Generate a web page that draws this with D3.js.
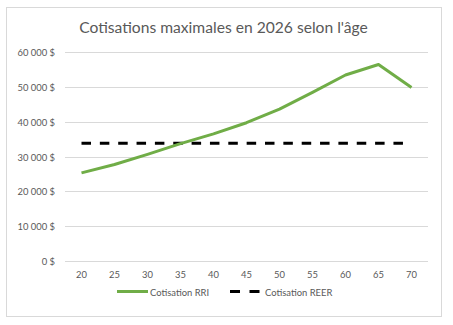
<!DOCTYPE html>
<html><head><meta charset="utf-8">
<script src="https://cdn.jsdelivr.net/npm/d3@7"></script>
<style>body{margin:0;background:#fff}svg{display:block}</style>
</head><body>
<script>
const ages = ["20","25","30","35","40","45","50","55","60","65","70"];
const rri = [25300,27700,30600,33700,36500,39700,43600,48400,53400,56400,49800];
const reer = [33810,33810,33810,33810,33810,33810,33810,33810,33810,33810,33810];
const yTicks = [0,10000,20000,30000,40000,50000,60000];
const title = "Cotisations maximales en 2026 selon l'âge";
const seriesNames = ["Cotisation RRI","Cotisation REER"];

const W=453,H=325;
const svg=d3.select("body").append("svg").attr("width",W).attr("height",H);
const font="Lato, 'Open Sans', sans-serif";
svg.append("rect").attr("x",6.5).attr("y",7.5).attr("width",435).attr("height",309)
  .attr("fill","#fff").attr("stroke","#d9d9d9");

function fit(sel,target){
  const w=sel.node().getComputedTextLength();
  const fs=parseFloat(sel.attr("font-size"));
  sel.attr("font-size",(fs*target/w).toFixed(2));
}

const x=d3.scaleBand().domain(ages).range([65,428]);
const y=d3.scaleLinear().domain([0,60000]).range([261,52]);
const fmt=v=>d3.format(",")(v).replace(/,/g,"\u00a0")+"\u00a0$";

const g=svg.append("g");
g.selectAll("line.grid").data(yTicks).join("line").attr("class","grid")
  .attr("x1",65).attr("x2",428).attr("y1",d=>Math.round(y(d))+0.5).attr("y2",d=>Math.round(y(d))+0.5)
  .attr("stroke","#d9d9d9").attr("stroke-width",1);

const probe=svg.append("text").attr("font-family",font).attr("font-size",12).text(fmt(60000));
fit(probe,37.6);
const tickFs=probe.attr("font-size"); probe.remove();

g.selectAll("text.yl").data(yTicks).join("text").attr("class","yl")
  .attr("x",55).attr("y",d=>y(d)+4).attr("text-anchor","end")
  .attr("font-family",font).attr("font-size",tickFs).attr("fill","#595959").text(fmt);
g.selectAll("text.xl").data(ages).join("text").attr("class","xl")
  .attr("x",d=>x(d)+x.bandwidth()/2).attr("y",278).attr("text-anchor","middle")
  .attr("font-family",font).attr("font-size",tickFs).attr("fill","#595959").text(d=>d);

const line=d3.line().x((d,i)=>x(ages[i])+x.bandwidth()/2).y(d=>y(d));
g.append("path").attr("d",line(reer)).attr("fill","none").attr("stroke","#000")
  .attr("stroke-width",3).attr("stroke-dasharray","9.5,8.85");
g.append("path").attr("d",line(rri)).attr("fill","none").attr("stroke","#70ad47")
  .attr("stroke-width",3).attr("stroke-linejoin","round");

const t=svg.append("text").attr("x",223.5).attr("y",33).attr("text-anchor","middle")
  .attr("font-family",font).attr("font-size",19).attr("fill","#595959").text(title);
fit(t,289);

const ly=291.5;
svg.append("line").attr("x1",117).attr("x2",148).attr("y1",ly).attr("y2",ly)
  .attr("stroke","#70ad47").attr("stroke-width",3);
svg.append("text").attr("x",150).attr("y",ly+4).attr("font-family",font).attr("font-size",tickFs)
  .attr("fill","#595959").text(seriesNames[0]);
svg.append("line").attr("x1",230).attr("x2",260).attr("y1",ly).attr("y2",ly)
  .attr("stroke","#000").attr("stroke-width",3).attr("stroke-dasharray","10,9.5");
svg.append("text").attr("x",265).attr("y",ly+4).attr("font-family",font).attr("font-size",tickFs)
  .attr("fill","#595959").text(seriesNames[1]);
</script>
</body></html>
